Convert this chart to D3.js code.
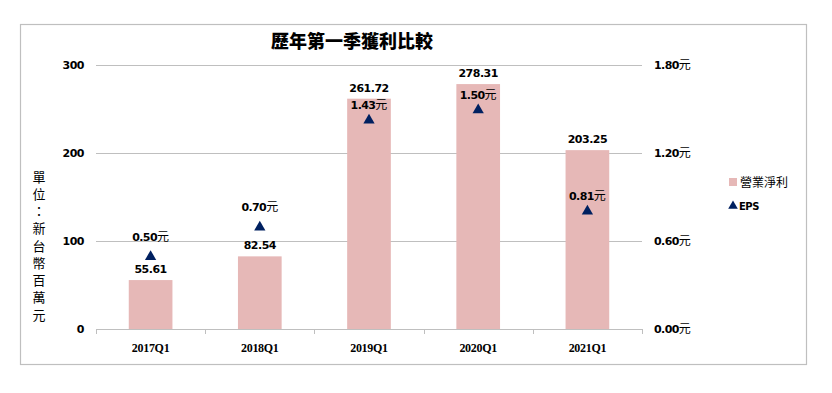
<!DOCTYPE html>
<html><head><meta charset="utf-8">
<script src="https://cdn.jsdelivr.net/npm/d3@7"></script>
<style>body{margin:0;background:#fff}svg{display:block}</style>
</head><body><svg id="c" width="832" height="393"></svg>
<script>
const categories = ["2017Q1","2018Q1","2019Q1","2020Q1","2021Q1"];
const netIncome = [55.61, 82.54, 261.72, 278.31, 203.25];
const eps = [0.50, 0.70, 1.43, 1.50, 0.81];
const leftTicks = [0, 100, 200, 300];
const rightTicks = [0, 0.6, 1.2, 1.8];
const title = "歷年第一季獲利比較";
const yTitle = "單位：新台幣百萬元";
const seriesNames = ["營業淨利", "EPS"];

const svg = d3.select("#c");
const L = 96, R = 642, T = 65, B = 329;
const barColor = "#E6B8B7", triColor = "#002060", gridColor = "#BFBFBF";

svg.append("rect").attr("x",20.5).attr("y",24.5).attr("width",786).attr("height",340)
  .attr("fill","#fff").attr("stroke","#BFBFBF").attr("stroke-width",1.2);

const x = d3.scaleBand().domain(categories).range([L,R]).paddingInner(0.6).paddingOuter(0.3);
const xb = d3.scaleBand().domain(categories).range([L,R]);
const y = d3.scaleLinear().domain([0,300]).range([B,T]);
const y2 = d3.scaleLinear().domain([0,1.8]).range([B,T]);

function yuan(sel, fmt){
  sel.each(function(d){
    const t = d3.select(this);
    t.append("tspan").attr("font-weight","bold").attr("letter-spacing","-0.6").text(fmt(d));
    t.append("tspan").attr("font-family","'Noto Sans CJK TC', sans-serif").attr("font-size",12).text("元");
  });
}

// grid
svg.append("g").selectAll("line").data(leftTicks.filter(d=>d>0)).join("line")
  .attr("x1",L).attr("x2",R).attr("y1",d=>Math.round(y(d))+0.5).attr("y2",d=>Math.round(y(d))+0.5)
  .attr("stroke",gridColor).attr("stroke-width",1);

// left labels
svg.append("g").selectAll("text").data(leftTicks).join("text")
  .attr("x",84).attr("y",d=>y(d)).attr("dy","0.35em").attr("text-anchor","end")
  .attr("font-family","'DejaVu Sans', sans-serif").attr("font-weight","bold")
  .attr("font-size",11).attr("letter-spacing","-0.5").text(d=>d);

// right labels
svg.append("g").selectAll("text").data(rightTicks).join("text")
  .attr("x",654).attr("y",d=>y2(d)).attr("dy","0.35em").attr("text-anchor","start")
  .attr("font-family","'DejaVu Sans', sans-serif").attr("font-size",11)
  .call(yuan, d=>d3.format(".2f")(d));

// bars
svg.append("g").selectAll("rect").data(categories).join("rect")
  .attr("x",d=>x(d)).attr("width",x.bandwidth())
  .attr("y",(d,i)=>y(netIncome[i])).attr("height",(d,i)=>B-y(netIncome[i]))
  .attr("fill",barColor);

// x axis
svg.append("line").attr("x1",L).attr("x2",R).attr("y1",B+0.5).attr("y2",B+0.5).attr("stroke",gridColor);
const bounds = categories.map(c=>xb(c)).concat([R]);
svg.append("g").selectAll("line").data(bounds).join("line")
  .attr("x1",d=>Math.round(d)+0.5).attr("x2",d=>Math.round(d)+0.5).attr("y1",B).attr("y2",B+5)
  .attr("stroke",gridColor);
svg.append("g").selectAll("text").data(categories).join("text")
  .attr("x",d=>xb(d)+xb.bandwidth()/2).attr("y",B+19).attr("dy","0.35em").attr("text-anchor","middle")
  .attr("font-family","'Liberation Serif', serif").attr("font-weight","bold").attr("font-size",12)
  .attr("letter-spacing","-0.3").text(d=>d);

// bar labels
svg.append("g").selectAll("text").data(categories).join("text")
  .attr("x",d=>x(d)+x.bandwidth()/2).attr("y",(d,i)=>y(netIncome[i])-11).attr("dy","0.35em")
  .attr("text-anchor","middle").attr("font-family","'DejaVu Sans', sans-serif").attr("font-weight","bold")
  .attr("font-size",11).attr("letter-spacing","-0.5").text((d,i)=>d3.format(".2f")(netIncome[i]));

// eps triangles
const tri = d3.symbol().type(d3.symbolTriangle).size(55);
const cx = d=>xb(d)+xb.bandwidth()/2;
svg.append("g").selectAll("path").data(categories).join("path")
  .attr("d",tri).attr("transform",(d,i)=>`translate(${cx(d)},${y2(eps[i])+1})`).attr("fill",triColor);
svg.append("g").selectAll("text").data(eps).join("text")
  .attr("x",(d,i)=>cx(categories[i])).attr("y",(d,i)=>y2(d) - (y2(d) > y(netIncome[i]) ? 14 : 19)).attr("dy","0.35em")
  .attr("text-anchor","middle").attr("font-family","'DejaVu Sans', sans-serif")
  .attr("font-size",11).call(yuan, d=>d3.format(".2f")(d));

// title
svg.append("text").attr("x",352).attr("y",42).attr("dy","0.35em").attr("text-anchor","middle")
  .attr("font-family","'Noto Sans CJK TC', sans-serif").attr("font-weight","900").attr("font-size",18)
  .text(title);

// y title vertical
svg.append("g").selectAll("text").data(Array.from(yTitle)).join("text")
  .attr("x",39).attr("y",(d,i)=>177+i*17.25).attr("dy","0.35em").attr("text-anchor","middle")
  .attr("font-family","'Noto Sans CJK TC', sans-serif").attr("font-size",13).text(d=>d);

// legend
svg.append("rect").attr("x",729).attr("y",178).attr("width",8).attr("height",8).attr("fill",barColor);
svg.append("text").attr("x",740).attr("y",183).attr("dy","0.35em")
  .attr("font-family","'Noto Sans CJK TC', sans-serif").attr("font-size",12).text(seriesNames[0]);
svg.append("path").attr("d",d3.symbol().type(d3.symbolTriangle).size(40)).attr("transform","translate(733,206)").attr("fill",triColor);
svg.append("text").attr("x",739).attr("y",206).attr("dy","0.35em")
  .attr("font-family","'DejaVu Sans', sans-serif").attr("font-weight","bold").attr("font-size",10)
  .attr("letter-spacing","-0.5").text(seriesNames[1]);
</script></body></html>
